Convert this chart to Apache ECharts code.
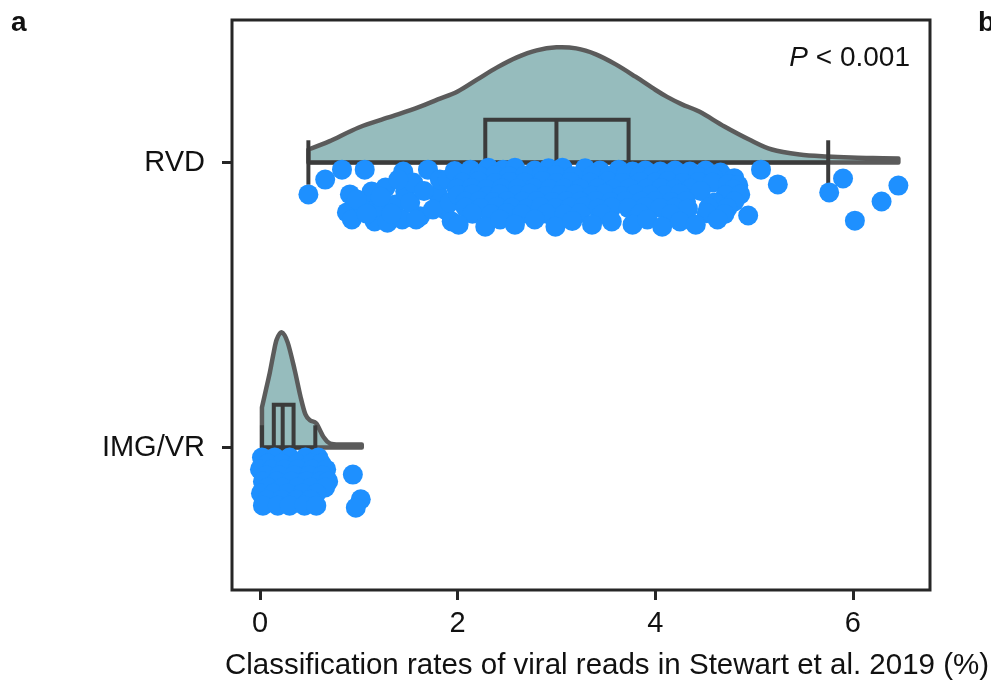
<!DOCTYPE html>
<html>
<head>
<meta charset="utf-8">
<script src="https://cdn.jsdelivr.net/npm/echarts@6/dist/echarts.min.js"></script>
<style>
  html, body { margin: 0; padding: 0; background: #ffffff; }
  #chart { width: 991px; height: 683px; }
</style>
</head>
<body>
<div id="chart"></div>
<script>
// Categories, bottom to top
const categories = ['IMG/VR', 'RVD'];
const xTicks = [0, 2, 4, 6];

// Per-sample classification rates (%) for RVD and the jitter of each dot below its baseline
const rvdRates = [
  0.49, 0.66, 0.83, 0.88, 0.93, 0.91, 1.06, 1.03, 1.13, 1.16, 1.20, 1.27, 1.29, 1.37, 1.45, 1.47, 1.44, 1.55, 1.62, 1.70, 1.80, 1.82, 1.87, 1.94,
  0.98, 1.08, 1.22, 1.33, 1.40, 1.52, 1.58, 1.66, 1.75, 1.90, 1.92,
  1.97, 2.13, 2.31, 2.46, 2.58, 2.78, 2.92, 3.06, 3.29, 3.44, 3.63, 3.77, 3.90, 4.05, 4.20, 4.35, 4.51, 4.66,
  2.22, 2.38, 2.52, 2.68, 2.85, 2.99, 3.17, 3.36, 3.53, 3.70, 3.84, 3.97, 4.12, 4.27, 4.43, 4.58, 4.80,
  2.05, 2.21, 2.38, 2.53, 2.68, 2.86, 3.00, 3.14, 3.34, 3.52, 3.67, 3.85, 4.00, 4.13, 4.28, 4.44, 4.58, 4.74, 4.84,
  1.99, 2.14, 2.29, 2.45, 2.61, 2.77, 2.93, 3.08, 3.24, 3.42, 3.58, 3.74, 3.91, 4.06, 4.20, 4.36, 4.79,
  2.01, 2.15, 2.30, 2.43, 2.60, 2.73, 2.89, 3.04, 3.19, 3.36, 3.49, 3.65, 3.80, 3.95, 4.10, 4.25, 4.46, 4.71, 4.86,
  2.08, 2.22, 2.36, 2.50, 2.66, 2.80, 2.96, 3.10, 3.24, 3.40, 3.55, 3.70, 3.86, 4.00, 4.16, 4.31, 4.60, 4.80,
  2.08, 2.23, 2.40, 2.55, 2.70, 2.84, 2.99, 3.14, 3.28, 3.42, 3.56, 3.73, 3.90, 4.05, 4.20, 4.33, 4.54, 4.73,
  2.15, 2.34, 2.50, 2.65, 2.90, 3.08, 3.24, 3.46, 3.85, 4.16, 4.52, 4.70,
  2.01, 2.28, 2.43, 2.58, 2.78, 2.99, 3.16, 3.36, 3.56, 3.77, 3.92, 4.07, 4.25, 4.41, 4.63, 4.94,
  5.07, 5.24, 5.76, 5.90, 6.02, 6.29, 6.46
];
const rvdJitter = [
  0.112, 0.060, 0.025, 0.175, 0.200, 0.112, 0.025, 0.147, 0.102, 0.207, 0.155, 0.088, 0.211, 0.147, 0.032, 0.102, 0.200, 0.070, 0.189, 0.025, 0.112, 0.060, 0.165, 0.207,
  0.130, 0.180, 0.120, 0.180, 0.060, 0.140, 0.200, 0.100, 0.165, 0.060, 0.140,
  0.030, 0.025, 0.018, 0.025, 0.018, 0.028, 0.020, 0.018, 0.020, 0.028, 0.025, 0.032, 0.028, 0.032, 0.028, 0.032, 0.028, 0.035,
  0.047, 0.045, 0.048, 0.046, 0.047, 0.045, 0.048, 0.046, 0.047, 0.045, 0.048, 0.046, 0.047, 0.045, 0.048, 0.050, 0.055,
  0.070, 0.066, 0.072, 0.068, 0.070, 0.065, 0.072, 0.068, 0.070, 0.066, 0.072, 0.068, 0.070, 0.066, 0.072, 0.068, 0.070, 0.075, 0.080,
  0.092, 0.090, 0.094, 0.091, 0.092, 0.090, 0.094, 0.091, 0.092, 0.090, 0.094, 0.091, 0.092, 0.090, 0.094, 0.091, 0.095,
  0.115, 0.112, 0.118, 0.112, 0.115, 0.110, 0.118, 0.114, 0.112, 0.116, 0.110, 0.118, 0.112, 0.116, 0.114, 0.110, 0.100, 0.115, 0.112,
  0.137, 0.135, 0.139, 0.136, 0.137, 0.135, 0.139, 0.136, 0.137, 0.135, 0.139, 0.136, 0.137, 0.135, 0.139, 0.136, 0.140, 0.137,
  0.158, 0.160, 0.155, 0.158, 0.162, 0.156, 0.160, 0.158, 0.155, 0.162, 0.158, 0.160, 0.156, 0.160, 0.158, 0.162, 0.158, 0.160,
  0.180, 0.182, 0.178, 0.181, 0.180, 0.182, 0.178, 0.181, 0.180, 0.182, 0.178, 0.181,
  0.218, 0.225, 0.200, 0.218, 0.200, 0.225, 0.205, 0.218, 0.207, 0.218, 0.200, 0.225, 0.207, 0.218, 0.200, 0.186,
  0.025, 0.077, 0.105, 0.056, 0.204, 0.137, 0.081
];

// Per-sample classification rates (%) for IMG/VR and the jitter of each dot
const imgRates = [
  0.02, 0.15, 0.30, 0.46, 0.59,
  0.08, 0.22, 0.38, 0.52, 0.62,
  0.00, 0.12, 0.25, 0.38, 0.53, 0.67,
  0.06, 0.20, 0.35, 0.50, 0.63,
  0.03, 0.17, 0.32, 0.47, 0.61, 0.69,
  0.08, 0.23, 0.38, 0.52, 0.66,
  0.01, 0.14, 0.28, 0.43, 0.57,
  0.07, 0.22, 0.37, 0.51,
  0.03, 0.18, 0.30, 0.45, 0.57,
  0.94, 1.02, 0.97
];
const imgJitter = [
  0.035, 0.035, 0.035, 0.035, 0.035,
  0.056, 0.056, 0.056, 0.056, 0.056,
  0.077, 0.077, 0.077, 0.077, 0.077, 0.077,
  0.098, 0.098, 0.098, 0.098, 0.098,
  0.119, 0.119, 0.119, 0.119, 0.119, 0.119,
  0.140, 0.140, 0.140, 0.140, 0.140,
  0.161, 0.161, 0.161, 0.161, 0.161,
  0.183, 0.183, 0.183, 0.183,
  0.204, 0.204, 0.204, 0.204, 0.204,
  0.095, 0.182, 0.211
];

// Kernel density profiles (peak-normalised) for the half violins
const rvdDensityX = [0.49, 0.70, 1.00, 1.30, 1.60, 1.80, 2.00, 2.20, 2.40, 2.60, 2.80, 3.00, 3.20, 3.40, 3.60, 3.80, 4.00, 4.12, 4.27, 4.45, 4.70, 4.95, 5.18, 5.46, 5.74, 5.98, 6.20, 6.46];
const rvdDensity  = [0.113, 0.183, 0.304, 0.391, 0.478, 0.548, 0.617, 0.722, 0.826, 0.913, 0.974, 1.000, 0.991, 0.939, 0.852, 0.745, 0.632, 0.570, 0.505, 0.440, 0.313, 0.200, 0.113, 0.070, 0.052, 0.043, 0.039, 0.035];
const imgDensityX = [0.02, 0.06, 0.10, 0.14, 0.17, 0.22, 0.28, 0.35, 0.41, 0.46, 0.51, 0.57, 0.64, 0.71, 0.84, 1.03];
const imgDensity  = [0.348, 0.500, 0.652, 0.830, 0.939, 1.000, 0.913, 0.678, 0.443, 0.287, 0.235, 0.209, 0.096, 0.035, 0.026, 0.026];

// Box statistics: [lower whisker, Q1, median, Q3, upper whisker]
const rvdBox = [0.49, 2.28, 3.00, 3.73, 5.75];
const imgBox = [0.02, 0.14, 0.23, 0.34, 0.56];

const X_MIN = -0.283;
const X_MAX = 6.78;
const VIOLIN_HEIGHT = 0.404;
const BOX_HALF = 0.15;
const CAP_HALF = 0.078;
const FONT = '"Liberation Sans", Arial, Helvetica, sans-serif';

const groups = [
  { base: 0, xs: imgDensityX, ds: imgDensity, box: imgBox },
  { base: 1, xs: rvdDensityX, ds: rvdDensity, box: rvdBox }
];

// Smooth cubic (Catmull-Rom) path through the density outline points
function curveSegments(pts) {
  let d = '';
  for (let i = 0; i < pts.length - 1; i++) {
    const p0 = pts[i - 1] || pts[i];
    const p1 = pts[i];
    const p2 = pts[i + 1];
    const p3 = pts[i + 2] || p2;
    const c1x = p1[0] + (p2[0] - p0[0]) / 6, c1y = p1[1] + (p2[1] - p0[1]) / 6;
    const c2x = p2[0] - (p3[0] - p1[0]) / 6, c2y = p2[1] - (p3[1] - p1[1]) / 6;
    d += ' C' + c1x + ' ' + c1y + ' ' + c2x + ' ' + c2y + ' ' + p2[0] + ' ' + p2[1];
  }
  return d;
}

function renderViolin(params, api) {
  const g = groups[params.dataIndex];
  const curve = g.xs.map((x, i) => api.coord([x, g.base + g.ds[i] * VIOLIN_HEIGHT]));
  const start = api.coord([g.xs[0], g.base]);
  const end = api.coord([g.xs[g.xs.length - 1], g.base]);
  const pathData = 'M' + start[0] + ' ' + start[1] +
    ' L' + curve[0][0] + ' ' + curve[0][1] +
    curveSegments(curve) +
    ' L' + end[0] + ' ' + end[1] + ' Z';
  return {
    type: 'path',
    shape: { pathData: pathData },
    style: { fill: '#96bcbd', stroke: '#5b5b5b', lineWidth: 4.5, lineJoin: 'round', lineCap: 'round' }
  };
}

function renderBox(params, api) {
  const g = groups[params.dataIndex];
  const [lo, q1, med, q3, hi] = g.box;
  const style = { stroke: '#3b3b3b', lineWidth: 4, fill: null };
  const c = (x, y) => api.coord([x, y]);
  const line = (a, b) => ({ type: 'line', shape: { x1: a[0], y1: a[1], x2: b[0], y2: b[1] }, style });
  const tl = c(q1, g.base + BOX_HALF);
  const br = c(q3, g.base - BOX_HALF);
  return {
    type: 'group',
    children: [
      line(c(lo, g.base), c(hi, g.base)),
      line(c(lo, g.base - CAP_HALF), c(lo, g.base + CAP_HALF)),
      line(c(hi, g.base - CAP_HALF), c(hi, g.base + CAP_HALF)),
      { type: 'rect', shape: { x: tl[0], y: tl[1], width: br[0] - tl[0], height: br[1] - tl[1] }, style },
      line(c(med, g.base - BOX_HALF), c(med, g.base + BOX_HALF))
    ]
  };
}

const dots = rvdRates.map((v, i) => [v, 1 - rvdJitter[i]])
  .concat(imgRates.map((v, i) => [v, 0 - imgJitter[i]]));

const chart = echarts.init(document.getElementById('chart'), null, { renderer: 'canvas' });
chart.setOption({
  animation: false,
  backgroundColor: '#ffffff',
  grid: {
    left: 232, right: 61, top: 20, bottom: 93,
    show: true, borderColor: '#262626', borderWidth: 3, backgroundColor: 'transparent'
  },
  xAxis: {
    type: 'value', min: X_MIN, max: X_MAX,
    axisLine: { show: false, onZero: false },
    splitLine: { show: false },
    axisTick: { show: true, customValues: xTicks, length: 10, lineStyle: { color: '#262626', width: 3 } },
    axisLabel: { customValues: xTicks, fontSize: 29, color: '#111', fontFamily: FONT, margin: 19 }
  },
  yAxis: [
    {
      type: 'category', data: categories,
      axisLine: { show: false, onZero: false },
      splitLine: { show: false },
      axisTick: { show: true, alignWithLabel: true, length: 10, lineStyle: { color: '#262626', width: 3 } },
      axisLabel: { fontSize: 29, color: '#111', fontFamily: FONT, margin: 27 }
    },
    { type: 'value', min: -0.5, max: 1.5, show: false }
  ],
  series: [
    {
      type: 'custom', name: 'violin', xAxisIndex: 0, yAxisIndex: 1, clip: false, z: 2,
      renderItem: renderViolin,
      data: groups.map(g => [g.xs[0], g.base])
    },
    {
      type: 'custom', name: 'box', xAxisIndex: 0, yAxisIndex: 1, clip: false, z: 3,
      renderItem: renderBox,
      data: groups.map(g => [g.box[2], g.base])
    },
    {
      type: 'scatter', name: 'samples', xAxisIndex: 0, yAxisIndex: 1, z: 4,
      symbolSize: 20,
      itemStyle: { color: '#1e90ff', opacity: 1 },
      data: dots
    }
  ],
  graphic: [
    { type: 'text', left: 11, top: 9, style: { text: 'a', font: 'bold 28px ' + FONT, fill: '#111' } },
    { type: 'text', left: 978, top: 9, style: { text: 'b', font: 'bold 28px ' + FONT, fill: '#111' } },
    {
      type: 'text', x: 910, y: 58,
      style: {
        text: '{i|P} < 0.001', align: 'right', verticalAlign: 'middle',
        font: '28px ' + FONT, fill: '#111',
        rich: { i: { fontStyle: 'italic', fontSize: 28, fontFamily: FONT } }
      }
    },
    {
      type: 'text', x: 607, y: 666,
      style: {
        text: 'Classification rates of viral reads in Stewart et al. 2019 (%)',
        align: 'center', verticalAlign: 'middle', font: '29.5px ' + FONT, fill: '#111'
      }
    }
  ]
});
</script>
</body>
</html>
